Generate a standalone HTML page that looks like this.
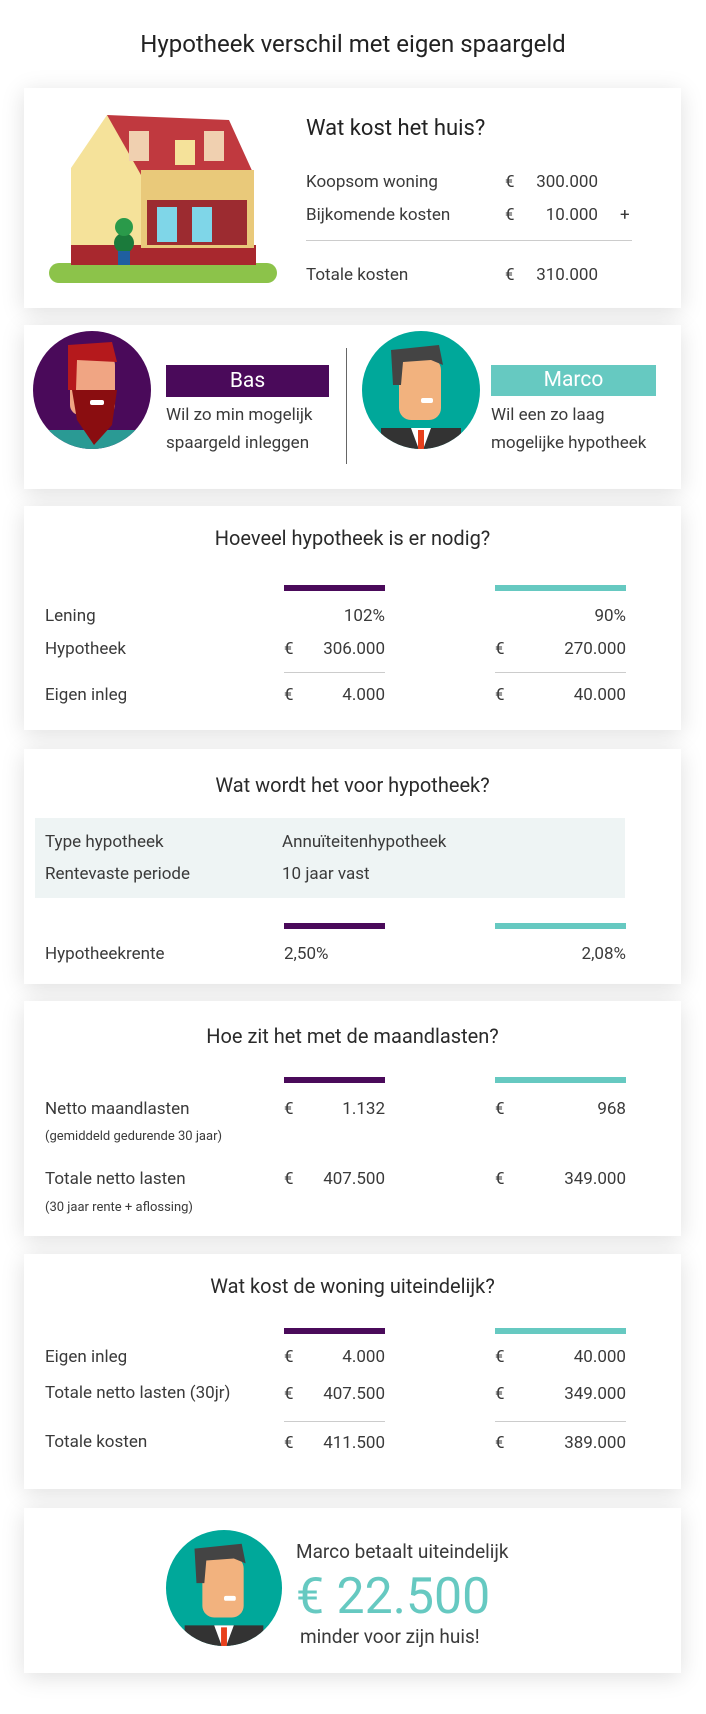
<!DOCTYPE html>
<html><head><meta charset="utf-8"><style>
*{margin:0;padding:0;box-sizing:border-box}
body{width:706px;height:1714px;background:#fff;font-family:"Roboto","Liberation Sans",sans-serif;color:#333;position:relative;overflow:hidden}
.card{position:absolute;left:24px;width:657px;background:#fff;box-shadow:0 4px 22px rgba(0,0,0,0.13)}
.t{position:absolute;white-space:nowrap;font-size:17px;line-height:20px;color:#3a3a3a;transform:translateY(-10px)}
.r{text-align:right}
.h{font-size:20px;line-height:24px;transform:translateY(-12px);color:#2a2a2a;left:0;width:657px;text-align:center}
.bar{position:absolute;height:6px}
.p{background:#4a0a5a}.c{background:#66c9c1}
.ln{position:absolute;height:1px;background:#ccc}
.s{font-size:13px}
</style></head><body>
<div class="t" style="left:0;width:706px;text-align:center;top:44px;font-size:24px;line-height:28px;transform:translateY(-14px);color:#222">Hypotheek verschil met eigen spaargeld</div>

<!-- card1 -->
<div class="card" style="top:88px;height:220px">
<svg style="position:absolute;left:25px;top:27px" width="230" height="170" viewBox="0 0 230 170">
<rect x="0" y="148" width="228" height="20" rx="10" fill="#8cc34a"/>
<polygon points="22,53 58,0 92,53 92,150 22,150" fill="#f5e29a"/>
<rect x="22" y="130" width="185" height="20" fill="#a8282e"/>
<polygon points="58,0 180,5 205,60 92,60" fill="#c0393f"/>
<rect x="92" y="55" width="113" height="78" fill="#e9c97a"/>
<rect x="98" y="85" width="100" height="45" fill="#9c2b30"/>
<rect x="108" y="92" width="20" height="35" fill="#7fd6e8"/>
<rect x="143" y="92" width="20" height="35" fill="#7fd6e8"/>
<rect x="155" y="16" width="20" height="30" fill="#f0d0b0"/>
<rect x="80" y="16" width="20" height="30" fill="#f0d0b0"/>
<rect x="126" y="25" width="20" height="25" fill="#f5e29a"/>
<circle cx="75" cy="128" r="10" fill="#1b7a3b"/><circle cx="75" cy="112" r="9" fill="#2a9a4a"/>
<rect x="69" y="136" width="12" height="14" fill="#1f5fa0"/>
</svg>
<div class="t" style="left:282px;top:41px;font-size:22px;line-height:26px;transform:translateY(-13px);color:#222">Wat kost het huis?</div>
<div class="t" style="left:282px;top:94px">Koopsom woning</div>
<div class="t" style="left:481px;top:94px">€</div><div class="t r" style="left:480px;width:94px;top:94px">300.000</div>
<div class="t" style="left:282px;top:127px">Bijkomende kosten</div>
<div class="t" style="left:481px;top:127px">€</div><div class="t r" style="left:480px;width:94px;top:127px">10.000</div>
<div class="t" style="left:596px;top:127px">+</div>
<div class="ln" style="left:282px;width:326px;top:152px"></div>
<div class="t" style="left:282px;top:187px">Totale kosten</div>
<div class="t" style="left:481px;top:187px">€</div><div class="t r" style="left:480px;width:94px;top:187px">310.000</div>
</div>

<!-- card2 -->
<div class="card" style="top:325px;height:164px">
<svg style="position:absolute;left:8px;top:5px" width="120" height="120" viewBox="0 0 120 120">
<defs><clipPath id="k1"><circle cx="60" cy="60" r="59"/></clipPath></defs>
<circle cx="60" cy="60" r="59" fill="#4a0a5a"/>
<g clip-path="url(#k1)"><rect x="15" y="100" width="90" height="30" fill="#2a9a94"/>
<rect x="38" y="25" width="45" height="60" rx="10" fill="#f0a583"/>
<polygon points="36,15 80,12 85,32 45,30 44,60 36,60" fill="#b5191c"/>
<polygon points="40,60 85,60 80,95 62,115 45,90" fill="#8a0d10"/>
<rect x="58" y="70" width="14" height="5" rx="2" fill="#fff"/></g>
</svg>
<div style="position:absolute;left:142px;top:40px;width:163px;height:32px;background:#4a0a5a;color:#fff;font-size:21px;line-height:32px;text-align:center">Bas</div>
<div class="t" style="left:142px;top:90px">Wil zo min mogelijk</div>
<div class="t" style="left:142px;top:118px">spaargeld inleggen</div>
<div style="position:absolute;left:322px;top:23px;width:1px;height:116px;background:#666"></div>
<svg style="position:absolute;left:337px;top:5px" width="120" height="120" viewBox="0 0 120 120">
<defs><clipPath id="k2"><circle cx="60" cy="60" r="59"/></clipPath></defs>
<circle cx="60" cy="60" r="59" fill="#00a89a"/>
<g clip-path="url(#k2)"><rect x="20" y="98" width="80" height="30" fill="#333"/>
<polygon points="50,98 70,98 60,125" fill="#fff"/><rect x="57" y="100" width="6" height="25" fill="#e8401c"/>
<rect x="38" y="28" width="42" height="62" rx="12" fill="#f2b27e"/>
<polygon points="30,20 78,15 82,35 70,30 42,32 40,55 32,55" fill="#444"/>
<rect x="60" y="68" width="12" height="5" rx="2" fill="#fff"/></g>
</svg>
<div style="position:absolute;left:467px;top:40px;width:165px;height:31px;background:#66c9c1;color:#fff;font-size:21px;line-height:31px;text-align:center">Marco</div>
<div class="t" style="left:467px;top:90px">Wil een zo laag</div>
<div class="t" style="left:467px;top:118px">mogelijke hypotheek</div>
</div>

<!-- card3 -->
<div class="card" style="top:506px;height:224px">
<div class="t h" style="top:32px">Hoeveel hypotheek is er nodig?</div>
<div class="bar p" style="left:260px;width:101px;top:79px"></div>
<div class="bar c" style="left:471px;width:131px;top:79px"></div>
<div class="t" style="left:21px;top:110px">Lening</div>
<div class="t r" style="left:260px;width:101px;top:110px">102%</div>
<div class="t r" style="left:471px;width:131px;top:110px">90%</div>
<div class="t" style="left:21px;top:143px">Hypotheek</div>
<div class="t" style="left:260px;top:143px">€</div><div class="t r" style="left:260px;width:101px;top:143px">306.000</div>
<div class="t" style="left:471px;top:143px">€</div><div class="t r" style="left:471px;width:131px;top:143px">270.000</div>
<div class="ln" style="left:260px;width:101px;top:166px"></div>
<div class="ln" style="left:471px;width:131px;top:166px"></div>
<div class="t" style="left:21px;top:189px">Eigen inleg</div>
<div class="t" style="left:260px;top:189px">€</div><div class="t r" style="left:260px;width:101px;top:189px">4.000</div>
<div class="t" style="left:471px;top:189px">€</div><div class="t r" style="left:471px;width:131px;top:189px">40.000</div>
</div>

<!-- card4 -->
<div class="card" style="top:749px;height:235px">
<div class="t h" style="top:36px">Wat wordt het voor hypotheek?</div>
<div style="position:absolute;left:11px;top:69px;width:590px;height:80px;background:#eef4f4"></div>
<div class="t" style="left:21px;top:93px">Type hypotheek</div>
<div class="t" style="left:258px;top:93px">Annuïteitenhypotheek</div>
<div class="t" style="left:21px;top:125px">Rentevaste periode</div>
<div class="t" style="left:258px;top:125px">10 jaar vast</div>
<div class="bar p" style="left:260px;width:101px;top:174px"></div>
<div class="bar c" style="left:471px;width:131px;top:174px"></div>
<div class="t" style="left:21px;top:205px">Hypotheekrente</div>
<div class="t" style="left:260px;top:205px">2,50%</div>
<div class="t r" style="left:471px;width:131px;top:205px">2,08%</div>
</div>

<!-- card5 -->
<div class="card" style="top:1001px;height:235px">
<div class="t h" style="top:35px">Hoe zit het met de maandlasten?</div>
<div class="bar p" style="left:260px;width:101px;top:76px"></div>
<div class="bar c" style="left:471px;width:131px;top:76px"></div>
<div class="t" style="left:21px;top:108px">Netto maandlasten</div>
<div class="t s" style="left:21px;top:136px">(gemiddeld gedurende 30 jaar)</div>
<div class="t" style="left:260px;top:108px">€</div><div class="t r" style="left:260px;width:101px;top:108px">1.132</div>
<div class="t" style="left:471px;top:108px">€</div><div class="t r" style="left:471px;width:131px;top:108px">968</div>
<div class="t" style="left:21px;top:178px">Totale netto lasten</div>
<div class="t s" style="left:21px;top:207px">(30 jaar rente + aflossing)</div>
<div class="t" style="left:260px;top:178px">€</div><div class="t r" style="left:260px;width:101px;top:178px">407.500</div>
<div class="t" style="left:471px;top:178px">€</div><div class="t r" style="left:471px;width:131px;top:178px">349.000</div>
</div>

<!-- card6 -->
<div class="card" style="top:1254px;height:235px">
<div class="t h" style="top:32px">Wat kost de woning uiteindelijk?</div>
<div class="bar p" style="left:260px;width:101px;top:74px"></div>
<div class="bar c" style="left:471px;width:131px;top:74px"></div>
<div class="t" style="left:21px;top:103px">Eigen inleg</div>
<div class="t" style="left:260px;top:103px">€</div><div class="t r" style="left:260px;width:101px;top:103px">4.000</div>
<div class="t" style="left:471px;top:103px">€</div><div class="t r" style="left:471px;width:131px;top:103px">40.000</div>
<div class="t" style="left:21px;top:139px">Totale netto lasten (30jr)</div>
<div class="t" style="left:260px;top:140px">€</div><div class="t r" style="left:260px;width:101px;top:140px">407.500</div>
<div class="t" style="left:471px;top:140px">€</div><div class="t r" style="left:471px;width:131px;top:140px">349.000</div>
<div class="ln" style="left:260px;width:101px;top:167px"></div>
<div class="ln" style="left:471px;width:131px;top:167px"></div>
<div class="t" style="left:21px;top:188px">Totale kosten</div>
<div class="t" style="left:260px;top:189px">€</div><div class="t r" style="left:260px;width:101px;top:189px">411.500</div>
<div class="t" style="left:471px;top:189px">€</div><div class="t r" style="left:471px;width:131px;top:189px">389.000</div>
</div>

<!-- card7 -->
<div class="card" style="top:1508px;height:165px">
<svg style="position:absolute;left:141px;top:21px" width="118" height="118" viewBox="0 0 120 120">
<defs><clipPath id="k3"><circle cx="60" cy="60" r="59"/></clipPath></defs>
<circle cx="60" cy="60" r="59" fill="#00a89a"/>
<g clip-path="url(#k3)"><rect x="20" y="98" width="80" height="30" fill="#333"/>
<polygon points="50,98 70,98 60,125" fill="#fff"/><rect x="57" y="100" width="6" height="25" fill="#e8401c"/>
<rect x="38" y="28" width="42" height="62" rx="12" fill="#f2b27e"/>
<polygon points="30,20 78,15 82,35 70,30 42,32 40,55 32,55" fill="#444"/>
<rect x="60" y="68" width="12" height="5" rx="2" fill="#fff"/></g>
</svg>
<div class="t" style="left:272px;top:44px;font-size:19px;line-height:22px;transform:translateY(-11px)">Marco betaalt uiteindelijk</div>
<div class="t" style="left:272px;top:89px;font-size:50px;line-height:56px;transform:translateY(-28px);color:#66c9c1">€ 22.500</div>
<div class="t" style="left:276px;top:129px;font-size:19px;line-height:22px;transform:translateY(-11px)">minder voor zijn huis!</div>
</div>
</body></html>
